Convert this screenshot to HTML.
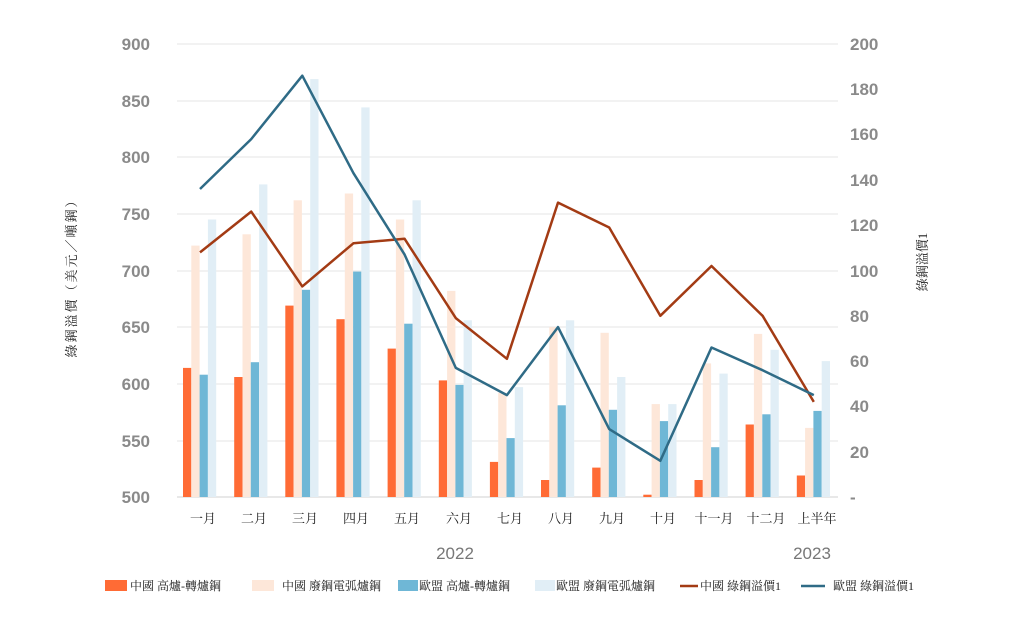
<!DOCTYPE html>
<html><head><meta charset="utf-8"><style>body{margin:0;background:#fff}</style></head><body>
<svg id="svg" width="1024" height="629" xmlns="http://www.w3.org/2000/svg" font-family="'Liberation Sans',sans-serif">
<g stroke="#e6e6e6" stroke-width="1">
<line x1="177" x2="838" y1="44" y2="44"/><line x1="177" x2="838" y1="101" y2="101"/><line x1="177" x2="838" y1="157" y2="157"/><line x1="177" x2="838" y1="214" y2="214"/><line x1="177" x2="838" y1="271" y2="271"/><line x1="177" x2="838" y1="327" y2="327"/><line x1="177" x2="838" y1="384" y2="384"/><line x1="177" x2="838" y1="441" y2="441"/>
</g>
<line x1="177" x2="838" y1="497" y2="497" stroke="#d0d0d0"/>
<g id="bars"></g>
<g fill="#8a8a8a" font-size="17" font-weight="bold" text-anchor="end">
<text x="150" y="50">900</text><text x="150" y="107">850</text><text x="150" y="163">800</text><text x="150" y="220">750</text><text x="150" y="277">700</text><text x="150" y="333">650</text><text x="150" y="390">600</text><text x="150" y="447">550</text><text x="150" y="503">500</text>
</g>
<g fill="#8a8a8a" font-size="17" font-weight="bold" text-anchor="start">
<text x="850" y="50">200</text><text x="850" y="95">180</text><text x="850" y="140">160</text><text x="850" y="186">140</text><text x="850" y="231">120</text><text x="850" y="277">100</text><text x="850" y="322">80</text><text x="850" y="367">60</text><text x="850" y="412">40</text><text x="850" y="458">20</text><text x="850" y="503">-</text>
</g>
<g font-family="'Liberation Serif','Noto Serif CJK SC',serif" font-size="13" text-anchor="middle" fill="#222">
<text x="203" y="523">一月</text><text x="254" y="523">二月</text><text x="305" y="523">三月</text><text x="356" y="523">四月</text><text x="407" y="523">五月</text><text x="459" y="523">六月</text><text x="510" y="523">七月</text><text x="561" y="523">八月</text><text x="612" y="523">九月</text><text x="663" y="523">十月</text><text x="714" y="523">十一月</text><text x="766" y="523">十二月</text><text x="817" y="523">上半年</text>
</g>
<text x="455" y="559" font-size="17" fill="#777" text-anchor="middle">2022</text>
<text x="812" y="559" font-size="17" fill="#777" text-anchor="middle">2023</text>
<text transform="translate(76,275) rotate(-90)" font-family="'Liberation Serif','Noto Serif CJK SC',serif" font-size="13" letter-spacing="2" text-anchor="middle" fill="#222">綠鋼溢價（美元／噸鋼）</text>
<text transform="translate(927,262) rotate(-90)" font-family="'Liberation Serif','Noto Serif CJK SC',serif" font-size="13" text-anchor="middle" fill="#222">綠鋼溢價1</text>
<polyline id="cn" fill="none" stroke="#a33b14" stroke-width="2.5" stroke-linejoin="round"/>
<polyline id="eu" fill="none" stroke="#2f6b86" stroke-width="2.5" stroke-linejoin="round"/>
<g font-family="'Liberation Serif','Noto Serif CJK SC',serif" font-size="12" fill="#222">
<rect x="105" y="580" width="22" height="11" fill="#ff6b35"/><text x="130" y="590">中國 高爐-轉爐鋼</text>
<rect x="252" y="580" width="22" height="11" fill="#fde7d9"/><text x="282" y="590">中國 廢鋼電弧爐鋼</text>
<rect x="398" y="580" width="20" height="11" fill="#6fb7d6"/><text x="419" y="590">歐盟 高爐-轉爐鋼</text>
<rect x="535" y="580" width="20" height="11" fill="#e1eef6"/><text x="556" y="590">歐盟 廢鋼電弧爐鋼</text>
<line x1="680" x2="698" y1="586" y2="586" stroke="#a33b14" stroke-width="2.5"/><text x="700" y="590">中國 綠鋼溢價1</text>
<line x1="801" x2="825" y1="586" y2="586" stroke="#2f6b86" stroke-width="2.5"/><text x="833" y="590">歐盟 綠鋼溢價1</text>
</g>
<script>
var NS='http://www.w3.org/2000/svg';
var s=[[614,606,669,657,631,603,531,515,526,502,515,564,519],[722,732,762,768,745,682,592,650,645,582,618,644,561],[608,619,683,699,653,599,552,581,577,567,544,573,576],[745,776,869,844,762,656,597,656,606,582,609,630,620]];
var c=['#ff6b35','#fde7d9','#6fb7d6','#e1eef6'];
var g=document.getElementById('bars');
for(var i=0;i<13;i++)for(var k=0;k<4;k++){var x=183+i*51.15+k*8.3;var y=497-(s[k][i]-500)*1.1325;var r=document.createElementNS(NS,'rect');r.setAttribute('x',x.toFixed(1));r.setAttribute('y',y.toFixed(1));r.setAttribute('width','8.3');r.setAttribute('height',(497-y).toFixed(1));r.setAttribute('fill',c[k]);g.appendChild(r);}
var cn=[108,126,93,112,114,79,61,130,119,80,102,80,42],eu=[136,158,186,143,107,57,45,75,30,16,66,56,45];
function p(a){return a.map(function(v,i){return (200+i*51.15).toFixed(1)+','+(497-v*2.265).toFixed(1)}).join(' ')}
document.getElementById('cn').setAttribute('points',p(cn));
document.getElementById('eu').setAttribute('points',p(eu));
</script>
</svg>
</body></html>
